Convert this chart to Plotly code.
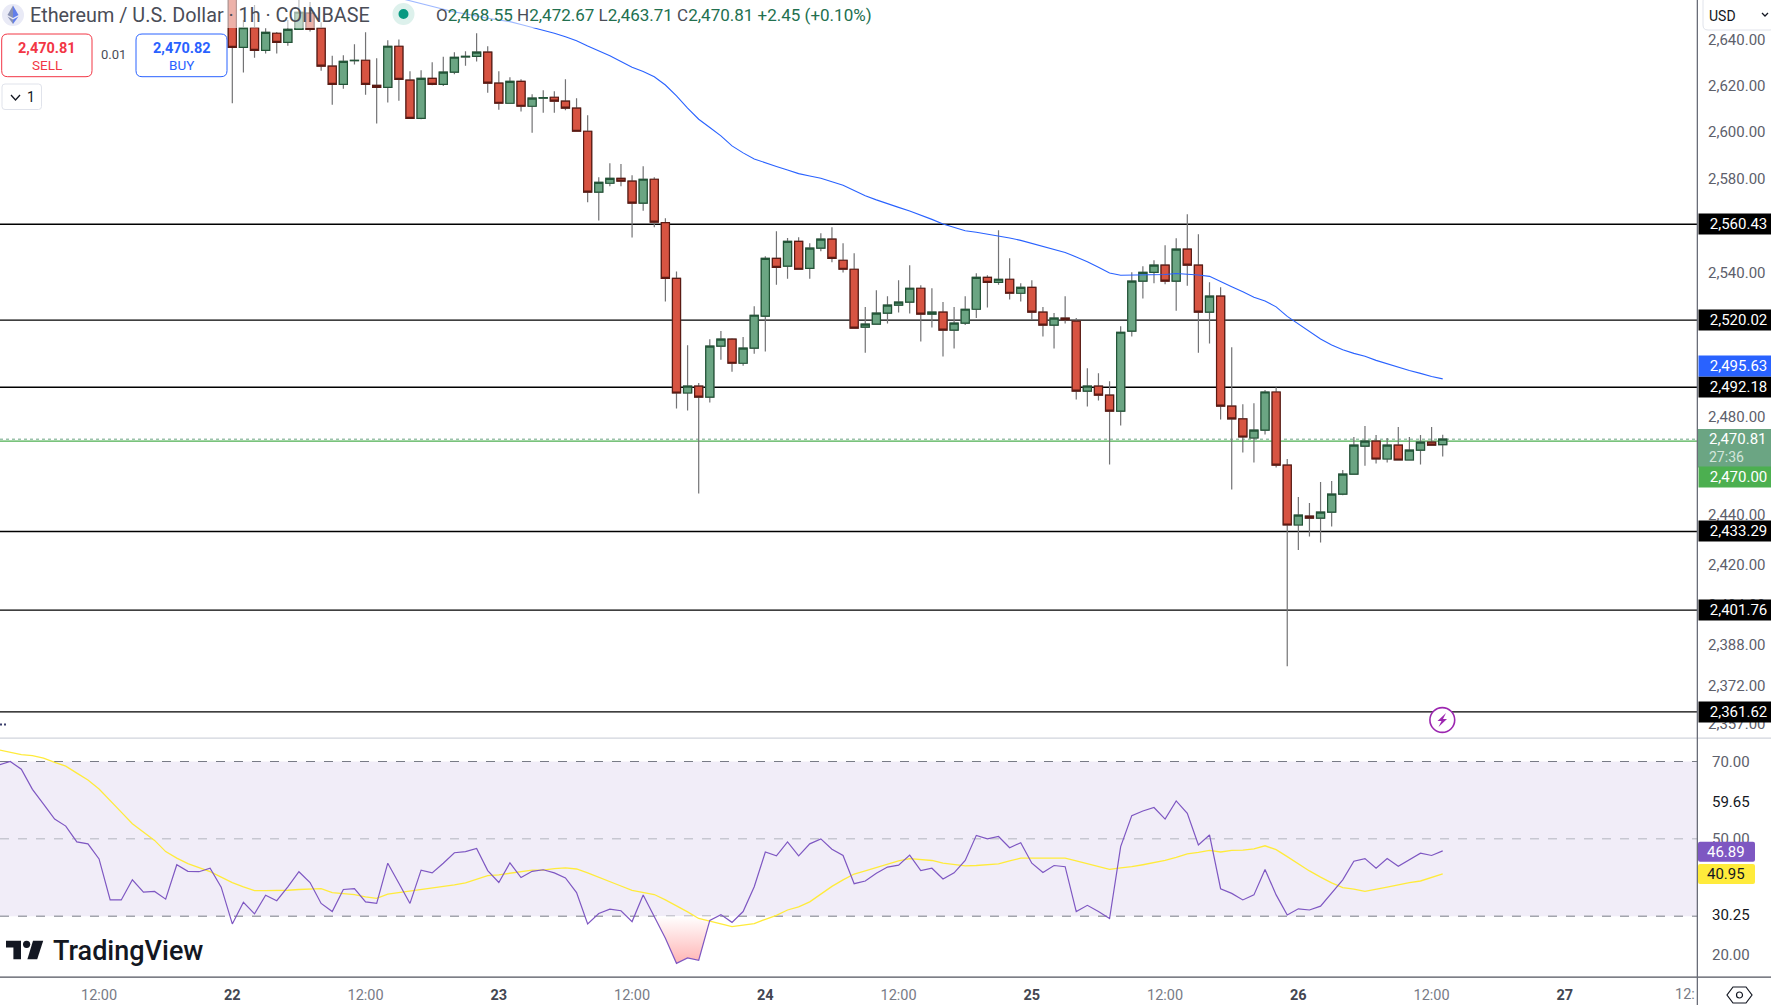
import math

import pandas as pd
import plotly.graph_objects as go

# hourly candles, first bar is 22 00:00
opens = [2662.0, 2636.6, 2645.2, 2635.3, 2642.8, 2638.8, 2644.5, 2651.6, 2645.0, 2628.4,
         2620.5, 2630.8, 2631.0, 2620.1, 2619.2, 2637.1, 2622.3, 2605.8, 2623.1, 2620.5,
         2625.8, 2632.5, 2632.7, 2634.5, 2621.0, 2612.3, 2621.8, 2611.0, 2614.5, 2614.9,
         2613.2, 2610.2, 2600.2, 2574.1, 2577.9, 2580.0, 2578.8, 2569.4, 2579.6, 2561.1,
         2537.6, 2489.8, 2492.6, 2488.1, 2509.2, 2512.1, 2502.1, 2508.4, 2521.7, 2546.0,
         2542.7, 2553.2, 2541.8, 2550.3, 2554.1, 2545.2, 2541.4, 2517.1, 2518.4, 2523.0,
         2526.3, 2527.6, 2533.4, 2522.6, 2523.4, 2515.9, 2518.8, 2524.6, 2538.0, 2535.9,
         2537.2, 2531.3, 2533.8, 2523.4, 2518.0, 2520.9, 2519.6, 2490.6, 2492.6, 2488.9,
         2482.3, 2515.5, 2536.4, 2540.1, 2543.1, 2536.4, 2549.9, 2543.1, 2523.4, 2530.1,
         2484.4, 2479.1, 2471.3, 2474.5, 2490.2, 2460.2, 2435.9, 2439.5, 2438.7, 2441.1,
         2448.4, 2456.5, 2468.0, 2470.0, 2462.7, 2468.4, 2462.3, 2466.3, 2469.6, 2468.55]
highs = [2668.0, 2648.6, 2655.2, 2645.0, 2643.3, 2648.6, 2659.0, 2656.5, 2647.6, 2632.9,
         2633.2, 2638.0, 2643.2, 2631.9, 2639.7, 2640.1, 2626.2, 2626.6, 2630.1, 2632.5,
         2634.5, 2634.9, 2642.8, 2637.1, 2626.2, 2623.6, 2622.7, 2616.2, 2617.9, 2617.5,
         2622.7, 2614.5, 2607.1, 2580.5, 2586.5, 2586.1, 2581.3, 2585.2, 2580.5, 2563.0,
         2540.5, 2509.6, 2493.9, 2512.1, 2515.5, 2512.5, 2513.0, 2525.9, 2546.9, 2557.5,
         2554.6, 2554.9, 2552.4, 2556.6, 2559.2, 2552.4, 2548.2, 2525.5, 2532.6, 2530.1,
         2536.8, 2543.1, 2534.7, 2533.4, 2527.6, 2525.5, 2530.1, 2539.7, 2538.9, 2557.9,
         2546.0, 2535.5, 2536.8, 2525.5, 2523.0, 2530.1, 2520.9, 2500.0, 2498.0, 2494.7,
         2517.5, 2540.1, 2542.7, 2545.2, 2551.5, 2554.5, 2564.7, 2556.2, 2535.9, 2533.8,
         2508.8, 2485.2, 2485.6, 2491.0, 2492.2, 2462.7, 2447.2, 2444.8, 2453.3, 2453.7,
         2458.2, 2471.7, 2476.2, 2472.5, 2471.3, 2475.8, 2471.7, 2472.5, 2475.8, 2472.67]
lows = [2612.3, 2625.6, 2632.1, 2633.9, 2633.9, 2637.3, 2644.5, 2643.6, 2626.4, 2611.7,
        2618.6, 2629.1, 2616.0, 2603.5, 2612.6, 2613.4, 2605.8, 2605.4, 2620.1, 2619.8,
        2624.9, 2628.6, 2630.5, 2616.9, 2609.5, 2612.3, 2608.7, 2599.6, 2608.2, 2608.2,
        2609.3, 2600.2, 2569.8, 2562.0, 2576.6, 2576.6, 2554.8, 2566.2, 2559.2, 2527.8,
        2483.4, 2482.6, 2448.7, 2485.9, 2503.6, 2498.6, 2501.1, 2506.1, 2507.0, 2534.9,
        2537.4, 2541.4, 2537.4, 2549.0, 2544.4, 2540.0, 2516.7, 2506.5, 2518.4, 2518.6,
        2523.2, 2522.8, 2511.1, 2517.0, 2504.9, 2508.2, 2518.0, 2520.9, 2525.3, 2534.9,
        2528.7, 2527.8, 2520.1, 2513.2, 2508.2, 2518.6, 2487.1, 2484.2, 2486.7, 2460.5,
        2476.4, 2513.2, 2529.1, 2535.5, 2535.1, 2524.0, 2534.5, 2506.5, 2510.3, 2478.9,
        2450.3, 2465.4, 2461.3, 2472.7, 2459.2, 2379.5, 2425.8, 2431.3, 2428.9, 2435.3,
        2448.0, 2456.5, 2460.0, 2460.9, 2461.3, 2462.3, 2462.3, 2460.5, 2468.4, 2463.71]
closes = [2636.6, 2645.2, 2635.3, 2643.2, 2638.8, 2644.5, 2652.0, 2644.5, 2628.4, 2620.5,
          2630.5, 2631.0, 2620.5, 2619.2, 2637.1, 2622.7, 2605.8, 2623.1, 2620.5, 2625.8,
          2632.3, 2632.7, 2634.5, 2621.0, 2612.3, 2621.8, 2611.0, 2614.5, 2614.7, 2613.2,
          2610.2, 2600.2, 2574.1, 2578.3, 2580.0, 2578.8, 2569.4, 2579.6, 2561.3, 2537.6,
          2489.8, 2492.6, 2488.1, 2509.2, 2512.1, 2502.1, 2508.4, 2522.1, 2546.0, 2542.2,
          2553.2, 2541.4, 2550.3, 2554.1, 2546.0, 2541.4, 2516.7, 2518.4, 2523.0, 2526.3,
          2527.6, 2533.4, 2522.6, 2523.4, 2515.9, 2518.8, 2524.6, 2538.0, 2535.9, 2537.2,
          2531.3, 2533.8, 2523.4, 2518.0, 2520.9, 2520.1, 2490.6, 2492.6, 2488.9, 2482.3,
          2515.0, 2536.4, 2540.1, 2543.1, 2536.4, 2549.9, 2543.1, 2523.4, 2530.1, 2484.4,
          2479.1, 2471.7, 2474.5, 2490.2, 2460.2, 2435.9, 2439.9, 2438.7, 2441.1, 2448.4,
          2456.5, 2468.4, 2470.0, 2462.7, 2468.4, 2462.3, 2466.3, 2469.6, 2468.4, 2470.81]

# blue moving average, starts at bar 15 (comes in from above the pane)
ma_values = [2658.3, 2657.0, 2655.7, 2654.5, 2653.3, 2652.1, 2651.3, 2650.2, 2649.4, 2648.6,
             2647.9, 2646.6, 2645.4, 2644.2, 2642.8, 2641.3, 2639.5, 2637.2, 2635.2, 2632.9,
             2630.4, 2627.9, 2626.1, 2623.8, 2620.2, 2615.5, 2610.2, 2605.4, 2601.8, 2598.2,
             2593.9, 2590.9, 2588.3, 2586.6, 2585.1, 2583.6, 2582.0, 2581.0, 2580.0, 2578.5,
             2577.0, 2574.8, 2572.6, 2570.8, 2569.1, 2567.6, 2566.1, 2564.4, 2562.5, 2560.5,
             2559.1, 2557.7, 2557.0, 2556.3, 2555.5, 2554.6, 2553.6, 2552.3, 2551.0, 2549.8,
             2548.5, 2546.6, 2544.6, 2542.2, 2539.8, 2538.9, 2538.9, 2538.9, 2539.0, 2539.2,
             2539.6, 2539.4, 2539.0, 2538.4, 2536.1, 2534.0, 2531.9, 2529.6, 2528.1, 2525.6,
             2521.6, 2518.5, 2515.2, 2512.2, 2509.7, 2507.7, 2506.2, 2505.0, 2503.3, 2501.8,
             2500.6, 2499.1, 2497.9, 2496.6, 2495.63]

# RSI and its average, these run 21 bars further left than the candles
rsi_values = [69.1, 70.0, 68.0, 62.8, 59.0, 55.1, 53.3, 49.2, 48.7, 44.8, 34.2, 34.2, 39.4, 36.2,
              36.4, 34.4, 43.3, 41.6, 41.5, 42.4, 37.5, 28.0, 33.6, 30.6, 35.4, 34.0, 37.6, 41.5,
              38.7, 33.3, 31.2, 36.9, 37.1, 33.7, 33.3, 43.7, 38.5, 33.3, 41.9, 41.2, 43.7, 46.4,
              46.7, 47.5, 41.8, 38.7, 43.8, 40.0, 41.6, 42.0, 41.2, 39.9, 36.1, 28.0, 30.7, 31.8,
              31.4, 28.6, 35.5, 29.9, 24.3, 17.8, 19.2, 18.6, 28.9, 30.4, 28.4, 31.2, 37.6, 46.6,
              45.6, 49.2, 45.6, 48.7, 50.0, 47.3, 45.7, 38.4, 39.1, 41.1, 42.7, 43.2, 45.8, 41.8,
              42.4, 39.6, 41.2, 44.4, 50.9, 50.0, 50.6, 47.7, 49.0, 43.7, 41.3, 43.1, 42.8, 31.2,
              32.8, 31.2, 29.4, 48.0, 56.0, 57.2, 58.1, 55.1, 59.8, 56.6, 48.4, 51.0, 37.1, 35.9,
              34.2, 35.5, 42.1, 35.5, 30.3, 31.9, 31.6, 32.6, 35.9, 39.4, 44.2, 44.9, 42.4, 44.9,
              42.9, 44.7, 46.3, 45.7, 46.89]
rsi_ma_values = [73.0, 72.4, 71.8, 71.5, 70.9, 69.8, 68.8, 67.0, 65.2, 62.9, 60.0, 56.9, 53.9, 51.8,
                 49.6, 46.7, 45.0, 43.6, 42.5, 41.5, 40.1, 38.7, 37.6, 36.6, 36.6, 36.6, 36.7, 36.9,
                 37.0, 37.1, 36.1, 35.8, 35.6, 35.0, 34.6, 35.7, 36.1, 36.4, 36.8, 37.3, 37.7, 38.1,
                 38.6, 39.6, 40.5, 40.7, 41.1, 41.5, 41.9, 41.9, 42.3, 42.5, 42.2, 41.2, 40.0, 39.0,
                 37.8, 36.7, 36.2, 35.6, 34.2, 32.7, 31.1, 29.4, 28.6, 28.0, 27.3, 27.7, 28.1, 29.2,
                 30.2, 31.6, 32.4, 33.7, 35.7, 37.7, 39.4, 40.9, 41.7, 42.6, 43.5, 44.3, 44.9, 44.6,
                 44.4, 43.7, 43.4, 43.0, 43.1, 43.3, 43.5, 44.3, 45.0, 45.0, 45.0, 45.0, 45.0, 44.3,
                 43.6, 42.9, 42.1, 42.5, 42.8, 43.3, 43.8, 44.4, 45.2, 46.1, 46.5, 47.0, 46.6, 47.0,
                 47.1, 47.4, 48.2, 47.2, 45.4, 43.5, 41.7, 40.1, 38.6, 37.4, 37.0, 36.4, 36.9, 37.5,
                 38.1, 38.7, 39.1, 40.0, 40.95]

levels = [2560.43, 2520.02, 2492.18, 2433.29, 2401.76, 2361.62]
last_price = 2470.81
alert_price = 2470.00
ma_last = 2495.63

price_ticks = [2640, 2620, 2600, 2580, 2540, 2480, 2440, 2420, 2404, 2388, 2372, 2357]
rsi_ticks = [70, 59.65, 50, 30.25, 20]
rsi_tick_labels = ["70.00", '<span style="color:#131722">59.65</span>', "50.00",
                   '<span style="color:#131722">30.25</span>', "20.00"]
time_ticks = ["2025-05-21 12:00", "2025-05-22", "2025-05-22 12:00", "2025-05-23", "2025-05-23 12:00",
              "2025-05-24", "2025-05-24 12:00", "2025-05-25", "2025-05-25 12:00", "2025-05-26",
              "2025-05-26 12:00", "2025-05-27"]
day = '<span style="color:#434651"><b>{}</b></span>'
time_labels = ["12:00", day.format(22), "12:00", day.format(23), "12:00", day.format(24),
               "12:00", day.format(25), "12:00", day.format(26), "12:00", day.format(27)]

UP = "#6BA583"
UP_EDGE = "#225437"
DOWN = "#D75442"
DOWN_EDGE = "#5B1A13"
WICK = "#737375"
BLUE = "#2962FF"
PURPLE = "#7E57C2"
YELLOW = "#FFEB3B"
GRAY = "#5D606B"
FONT = "Roboto"

PLOT_W = 1697
PLOT_H = 977


def px(x):
    return x / PLOT_W


def py(y):
    return 1 - y / PLOT_H


def rounded(x0, y0, x1, y1, r):
    # rounded box as a paper-space path
    return (f"M{px(x0 + r)},{py(y0)} L{px(x1 - r)},{py(y0)} Q{px(x1)},{py(y0)} {px(x1)},{py(y0 + r)} "
            f"L{px(x1)},{py(y1 - r)} Q{px(x1)},{py(y1)} {px(x1 - r)},{py(y1)} "
            f"L{px(x0 + r)},{py(y1)} Q{px(x0)},{py(y1)} {px(x0)},{py(y1 - r)} "
            f"L{px(x0)},{py(y0 + r)} Q{px(x0)},{py(y0)} {px(x0 + r)},{py(y0)} Z")


def poly(points):
    return "M" + " L".join(f"{px(x)},{py(y)}" for x, y in points) + " Z"


def text(x, y, s, size=14, color="#131722", anchor="center", weight=None):
    fig.add_annotation(xref="paper", yref="paper", x=px(x), y=py(y), text=s, showarrow=False,
                       xanchor=anchor, yanchor="middle", borderpad=0,
                       font=dict(family=FONT, size=size, color=color, weight=weight))


def path(d, fill="rgba(0,0,0,0)", line=None, width=1):
    fig.add_shape(type="path", xref="paper", yref="paper", path=d, fillcolor=fill,
                  line=dict(color=line or "rgba(0,0,0,0)", width=width if line else 0))


def circle(cx, cy, r, fill, line=None, width=1):
    fig.add_shape(type="circle", xref="paper", yref="paper", x0=px(cx - r), x1=px(cx + r),
                  y0=py(cy + r), y1=py(cy - r), fillcolor=fill,
                  line=dict(color=line or "rgba(0,0,0,0)", width=width if line else 0))


def box(x0, y0, x1, y1, fill, line=None, width=1):
    fig.add_shape(type="rect", xref="paper", yref="paper", x0=px(x0), x1=px(x1), y0=py(y1), y1=py(y0),
                  fillcolor=fill, line=dict(color=line or "rgba(0,0,0,0)", width=width if line else 0))


def axis_label(value, s, bg, shift=0):
    # wider than the column so the text sits right of centre, the page clips the rest
    fig.add_annotation(xref="paper", yref="y", x=1.0008, y=math.log10(value), yshift=shift, text=s, showarrow=False,
                       xanchor="left", yanchor="middle", width=79, height=20, align="center", borderpad=0,
                       bgcolor=bg, font=dict(family=FONT, size=15, color="#FFFFFF"))


times = pd.date_range("2025-05-22 00:00", periods=len(opens), freq="h")
rsi_times = pd.date_range(end=times[-1], periods=len(rsi_values), freq="h")
rsi_ma_times = pd.date_range(end=times[-1], periods=len(rsi_ma_values), freq="h")
ma_times = times[-len(ma_values):]

fig = go.Figure()

# wicks first, bodies on top so wick and outline can have different colours
fig.add_trace(go.Candlestick(
    x=times, open=opens, high=highs, low=lows, close=closes, whiskerwidth=0,
    increasing=dict(line=dict(color=WICK, width=1.2), fillcolor=UP),
    decreasing=dict(line=dict(color=WICK, width=1.2), fillcolor=DOWN),
    xaxis="x", yaxis="y", showlegend=False))
fig.add_trace(go.Candlestick(
    x=times, open=opens, close=closes, whiskerwidth=0,
    high=[max(o, c) for o, c in zip(opens, closes)],
    low=[min(o, c) for o, c in zip(opens, closes)],
    increasing=dict(line=dict(color=UP_EDGE, width=1.2), fillcolor=UP),
    decreasing=dict(line=dict(color=DOWN_EDGE, width=1.2), fillcolor=DOWN),
    xaxis="x", yaxis="y", showlegend=False))
fig.add_trace(go.Scatter(x=ma_times, y=ma_values, mode="lines", line=dict(color=BLUE, width=1.1),
                         xaxis="x", yaxis="y", showlegend=False))

# oversold patch under the 30 line
oversold = [i for i, t in enumerate(rsi_times) if pd.Timestamp("2025-05-23 14:00") <= t <= pd.Timestamp("2025-05-23 20:00")]
fig.add_trace(go.Scatter(x=[rsi_times[i] for i in oversold], y=[30 for i in oversold], mode="lines",
                         line=dict(width=0), xaxis="x", yaxis="y2", showlegend=False))
fig.add_trace(go.Scatter(x=[rsi_times[i] for i in oversold], y=[min(rsi_values[i], 30) for i in oversold],
                         mode="lines", line=dict(width=0), fill="tonexty",
                         fillgradient=dict(type="vertical", colorscale=[[0, "#FFB4B4"], [1, "#FFFFFF"]]),
                         xaxis="x", yaxis="y2", showlegend=False))
fig.add_trace(go.Scatter(x=rsi_ma_times, y=rsi_ma_values, mode="lines", line=dict(color=YELLOW, width=1.3),
                         xaxis="x", yaxis="y2", showlegend=False))
fig.add_trace(go.Scatter(x=rsi_times, y=rsi_values, mode="lines", line=dict(color=PURPLE, width=1.2),
                         xaxis="x", yaxis="y2", showlegend=False))

fig.update_layout(
    width=1771, height=1005, margin=dict(l=0, r=74, t=0, b=28, autoexpand=False),
    paper_bgcolor="#FFFFFF", plot_bgcolor="#FFFFFF", showlegend=False, boxgap=0.27, boxgroupgap=0,
    font=dict(family=FONT, size=15, color=GRAY),
    xaxis=dict(domain=[0, 1], anchor="y2", type="date", showgrid=False, zeroline=False, showline=False,
               rangeslider=dict(visible=False), tickmode="array", tickvals=time_ticks, ticktext=time_labels,
               range=[times[0] - pd.Timedelta(hours=20.92), times[0] + pd.Timedelta(hours=131.9)],
               ticks="", tickangle=0, ticklabelstandoff=7, tickfont=dict(family=FONT, size=14.5, color="#787B86")),
    yaxis=dict(domain=[239 / PLOT_H, 1], type="log", side="right", anchor="x", showgrid=False, zeroline=False,
               showline=False, range=[math.log10(2351.4), math.log10(2657.4)], tickmode="array",
               tickvals=price_ticks, ticktext=[f"{v:,.2f}" for v in price_ticks], ticks="",
               ticklabelstandoff=10, tickfont=dict(family=FONT, size=15, color=GRAY)),
    yaxis2=dict(domain=[0, 238 / PLOT_H], side="right", anchor="x", showgrid=False, zeroline=False,
                showline=False, range=[14.27, 75.82], tickmode="array", tickvals=rsi_ticks,
                ticktext=rsi_tick_labels, ticks="", ticklabelstandoff=14,
                tickfont=dict(family=FONT, size=15, color=GRAY)),
)

# RSI band and bounds
fig.add_shape(type="rect", xref="paper", yref="y2", x0=0, x1=1, y0=30, y1=70,
              fillcolor="rgba(126,87,194,0.11)", line_width=0, layer="below")
for level, colour in ((70, "#787B86"), (50, "#B2B5BE"), (30, "#787B86")):
    fig.add_shape(type="line", xref="paper", yref="y2", x0=0, x1=1, y0=level, y1=level, layer="below",
                  line=dict(color=colour, width=1, dash="dash"))

# drawn levels and live price sit behind the candles
for level in levels:
    fig.add_shape(type="line", xref="paper", yref="y", x0=0, x1=1, y0=level, y1=level, layer="below",
                  line=dict(color="#000000", width=1.3))
fig.add_shape(type="line", xref="paper", yref="y", x0=0, x1=1, y0=last_price, y1=last_price, layer="below",
              line=dict(color=UP, width=1, dash="dot"))
fig.add_shape(type="line", xref="paper", yref="y", x0=0, x1=1, y0=alert_price, y1=alert_price, layer="below",
              line=dict(color="#4CAF50", width=1.2))

# header veil fades whatever runs under the legend
box(0, 0, 872, 28, "rgba(255,255,255,0.55)")

# frame
box(0, 737.6, 1771, 738.8, "#D1D4DC")
box(0, 976.6, 1771, 977.8, "#50535E")
box(1696.7, 0, 1698, 1005, "#6A6D78")

# USD button
box(1699, 0, 1771, 30, "#FFFFFF")
path(rounded(1703, -4, 1775, 30, 5), "#FFFFFF", "#E0E3EB", 1)
text(1708, 16, "USD", 14, "#131722", "left")
path(f"M{px(1762)},{py(13)} L{px(1765)},{py(16)} L{px(1768)},{py(13)}", line="#131722", width=1.3)

# price labels on the axis
for level in levels:
    axis_label(level, f"{level:,.2f}", "#000000")
axis_label(ma_last, f"{ma_last:,.2f}", BLUE, 13)
box(1698, 429, 1771, 467.5, UP)
text(1708, 439, f"{last_price:,.2f}", 15, "#FFFFFF", "left")
text(1708, 456.5, "27:36", 14, "#D4E5DB", "left")
axis_label(alert_price, f"{alert_price:,.2f}", "#4CAF50", -36)
path(rounded(1698, 841.7, 1755, 861.7, 2), PURPLE)
text(1726.5, 851.7, f"{rsi_values[-1]:.2f}", 15, "#FFFFFF")
path(rounded(1698, 864, 1755, 884, 2), YELLOW)
text(1726.5, 874, f"{rsi_ma_values[-1]:.2f}", 15, "#131722")

# clipped tick past the last day
text(1696, 994.5, "12:", 14.5, "#787B86", "right")

# legend row
circle(13, 15, 11, "#E9EAF6")
path(poly([(13, 5.5), (7.5, 15), (13, 18)]), "#8A92B2")
path(poly([(13, 5.5), (18.5, 15), (13, 18)]), "#627EEA")
path(poly([(7.5, 16.5), (13, 24), (13, 19.5)]), "#8A92B2")
path(poly([(18.5, 16.5), (13, 24), (13, 19.5)]), "#627EEA")
text(29, 15, "Ethereum / U.S. Dollar · 1h · COINBASE", 19.8, "#4A4D57", "left")
circle(403.5, 14, 11, "#DDF1EC")
circle(403.5, 14, 5, "#089981")
num = '<span style="color:#22704F">{}</span>'
text(435, 15, "O" + num.format("2,468.55") + " H" + num.format("2,472.67") + " L" + num.format("2,463.71")
     + " C" + num.format("2,470.81") + " " + num.format("+2.45 (+0.10%)"), 17, "#4A4D57", "left")

# sell / buy
path(rounded(1.7, 34, 92, 76.7, 6), "#FFFFFF", "#F23645", 1)
text(47, 48, f"<b>{last_price:,.2f}</b>", 14.5, "#F23645")
text(47, 65, "SELL", 13.5, "#F23645")
text(113, 54.5, "0.01", 13, "#4A4D57")
path(rounded(136, 34, 227, 76.7, 6), "#FFFFFF", "#2962FF", 1)
text(181.5, 48, "<b>2,470.82</b>", 14.5, "#2962FF")
text(181.5, 65, "BUY", 13.5, "#2962FF")
path(rounded(2, 84, 41.5, 109.5, 3), "#FFFFFF", "#E0E3EB", 1)
path(f"M{px(11)},{py(95)} L{px(15.5)},{py(100)} L{px(20)},{py(95)}", line="#131722", width=1.3)
text(31, 97, "1", 14, "#131722")

# lightning marker
circle(1442.3, 720, 12.4, "#FFFFFF", "#9C27B0", 1.6)
path(poly([(1446, 713), (1437.5, 721), (1441.5, 721), (1438.5, 727), (1447, 719), (1443, 719)]), "#9C27B0")

# stray dots at the far left of the pane
box(0, 723.5, 2, 725.5, "#3A3E6C")
box(4, 723.5, 6, 725.5, "#3A3E6C")

# TradingView mark
path(poly([(6, 940.7), (21, 940.7), (21, 959.3), (13.4, 959.3), (13.4, 947.5), (6, 947.5)]), "#131722")
circle(26.6, 944.3, 3.6, "#131722")
path(poly([(33, 940.7), (43.2, 940.7), (37.2, 959.3), (27.4, 959.3)]), "#131722")
text(51.5, 951, "TradingView", 27, "#131722", "left", 500)

# settings hexagon bottom right
path(poly([(1733, 987), (1746, 987), (1752, 995), (1746, 1003), (1733, 1003), (1727, 995)]), "#FFFFFF", "#131722", 1.2)
circle(1739.5, 995, 3, "#FFFFFF", "#131722", 1.2)

fig.write_html("out.html", config={"displayModeBar": False},
               post_script="document.body.style.margin='0';document.body.style.overflow='hidden';")
